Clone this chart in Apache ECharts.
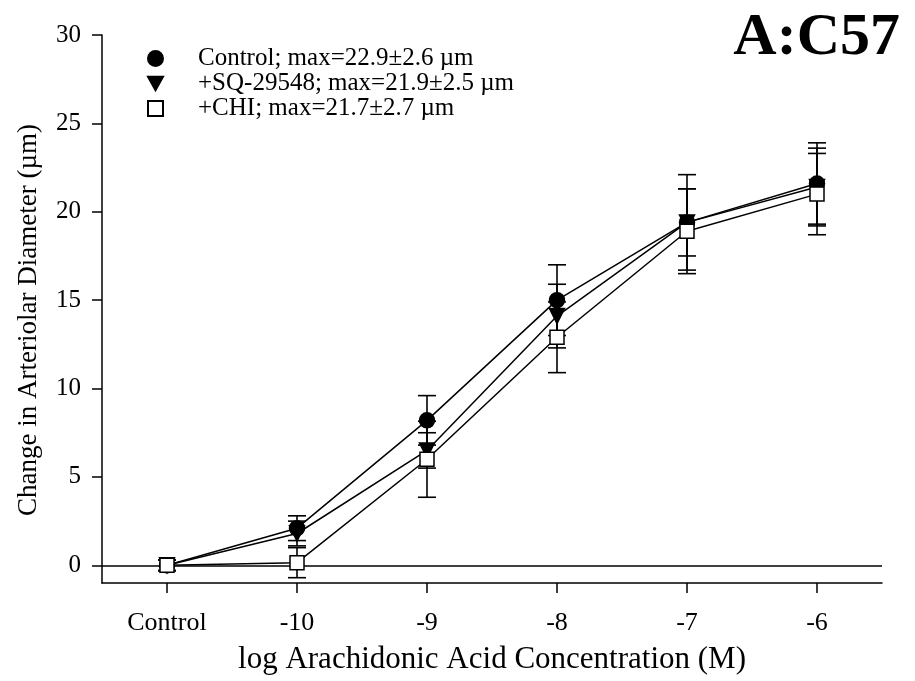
<!DOCTYPE html>
<html>
<head>
<meta charset="utf-8">
<script src="https://cdn.jsdelivr.net/npm/echarts@6/dist/echarts.min.js"></script>
<style>
  html, body { margin: 0; padding: 0; background: #fff; }
  #chart { width: 915px; height: 681px; }
</style>
</head>
<body>
<div id="chart"></div>
<script>
// x positions: "Control" sits one decade left of -10
const xValues = [-11, -10, -9, -8, -7, -6];
const xLabels = ['Control', '-10', '-9', '-8', '-7', '-6'];
const yTicks = [0, 5, 10, 15, 20, 25, 30];

const seriesNames = [
  'Control; max=22.9\u00b12.6 \u00b5m',
  '+SQ-29548; max=21.9\u00b12.5 \u00b5m',
  '+CHI; max=21.7\u00b12.7 \u00b5m'
];

const controlMean = [0, 2.1, 8.2, 15.0, 19.4, 21.6];
const controlErr  = [0.3, 0.7, 1.4, 2.0, 2.7, 2.3];
const sqMean      = [0, 1.8, 6.5, 14.1, 19.4, 21.4];
const sqErr       = [0.3, 0.7, 1.0, 1.8, 1.9, 2.2];
const chiMean     = [0, 0.15, 6.0, 12.9, 18.9, 21.0];
const chiErr      = [0.3, 0.85, 2.15, 2.0, 2.4, 2.3];

const font = 'Liberation Serif';
const chart = echarts.init(document.getElementById('chart'));

function points(mean) {
  return xValues.map((x, i) => [x, mean[i]]);
}
function bars(mean, err) {
  return xValues.map((x, i) => [x, mean[i] - err[i], mean[i] + err[i]]);
}

// error bar with caps
function renderErr(params, api) {
  const x = api.value(0);
  const lo = api.coord([x, api.value(1)]);
  const hi = api.coord([x, api.value(2)]);
  const w = 9;
  const st = { stroke: '#000', lineWidth: 1.6 };
  return {
    type: 'group',
    children: [
      { type: 'line', shape: { x1: lo[0], y1: lo[1], x2: hi[0], y2: hi[1] }, style: st },
      { type: 'line', shape: { x1: lo[0] - w, y1: lo[1], x2: lo[0] + w, y2: lo[1] }, style: st },
      { type: 'line', shape: { x1: hi[0] - w, y1: hi[1], x2: hi[0] + w, y2: hi[1] }, style: st }
    ]
  };
}

const triDown = 'path://M0,0 L10,0 L5,9 Z';

function lineSeries(name, mean, symbol, size, fill, z) {
  return {
    name: name,
    type: 'line',
    data: points(mean),
    symbol: symbol,
    symbolSize: size,
    showSymbol: true,
    z: z,
    lineStyle: { color: '#000', width: 1.5 },
    itemStyle: { color: fill, borderColor: '#000', borderWidth: 1.5, opacity: 1 }
  };
}

function errSeries(mean, err) {
  return {
    type: 'custom',
    renderItem: renderErr,
    data: bars(mean, err),
    encode: { x: 0, y: [1, 2] },
    z: 1,
    silent: true
  };
}

const option = {
  backgroundColor: '#fff',
  animation: false,
  title: {
    text: 'A:C57',
    right: 10,
    top: 3,
    textStyle: { fontFamily: font, fontSize: 60, fontWeight: 'bold', color: '#000' }
  },
  legend: {
    orient: 'vertical',
    left: 142,
    top: 41,
    itemGap: 0,
    itemWidth: 15,
    itemHeight: 15,
    data: [
      { name: seriesNames[0], icon: 'circle' },
      { name: seriesNames[1], icon: triDown },
      { name: seriesNames[2], icon: 'rect' }
    ],
    textStyle: { fontFamily: font, fontSize: 25, lineHeight: 24, color: '#000', padding: [0, 0, 0, 30] }
  },
  grid: { left: 102, right: 33, top: 35, bottom: 98 },
  xAxis: {
    type: 'value',
    min: -11.5,
    max: -5.5,
    name: 'log Arachidonic Acid Concentration (M)',
    nameLocation: 'middle',
    nameGap: 61,
    nameTextStyle: { fontFamily: font, fontSize: 31, color: '#000' },
    splitLine: { show: false },
    axisLine: { onZero: false, lineStyle: { color: '#000', width: 1.5 } },
    axisTick: { customValues: xValues, length: 10, lineStyle: { color: '#000', width: 1.5 } },
    axisLabel: {
      customValues: xValues,
      margin: 27,
      fontFamily: font, fontSize: 26, color: '#000',
      formatter: v => xLabels[xValues.indexOf(Math.round(v))]
    }
  },
  yAxis: {
    type: 'value',
    min: -1,
    max: 30,
    name: 'Change in Arteriolar Diameter (\u00b5m)',
    nameLocation: 'middle',
    nameGap: 60,
    nameTextStyle: { fontFamily: font, fontSize: 27, color: '#000', padding: [0, 22, 0, 0] },
    splitLine: { show: false },
    axisLine: { onZero: false, lineStyle: { color: '#000', width: 1.5 } },
    axisTick: { customValues: yTicks, length: 10, lineStyle: { color: '#000', width: 1.5 } },
    axisLabel: { customValues: yTicks, margin: 21, fontFamily: font, fontSize: 25, color: '#000' }
  },
  series: [
    errSeries(controlMean, controlErr),
    errSeries(sqMean, sqErr),
    errSeries(chiMean, chiErr),
    Object.assign(lineSeries(seriesNames[0], controlMean, 'circle', 15, '#000', 3), {
      markLine: {
        silent: true,
        symbol: 'none',
        label: { show: false },
        lineStyle: { color: '#000', width: 1.5, type: 'solid' },
        data: [{ yAxis: 0 }]
      }
    }),
    lineSeries(seriesNames[1], sqMean, triDown, 15, '#000', 4),
    lineSeries(seriesNames[2], chiMean, 'rect', 14, '#fff', 5)
  ]
};

chart.setOption(option);
</script>
</body>
</html>
